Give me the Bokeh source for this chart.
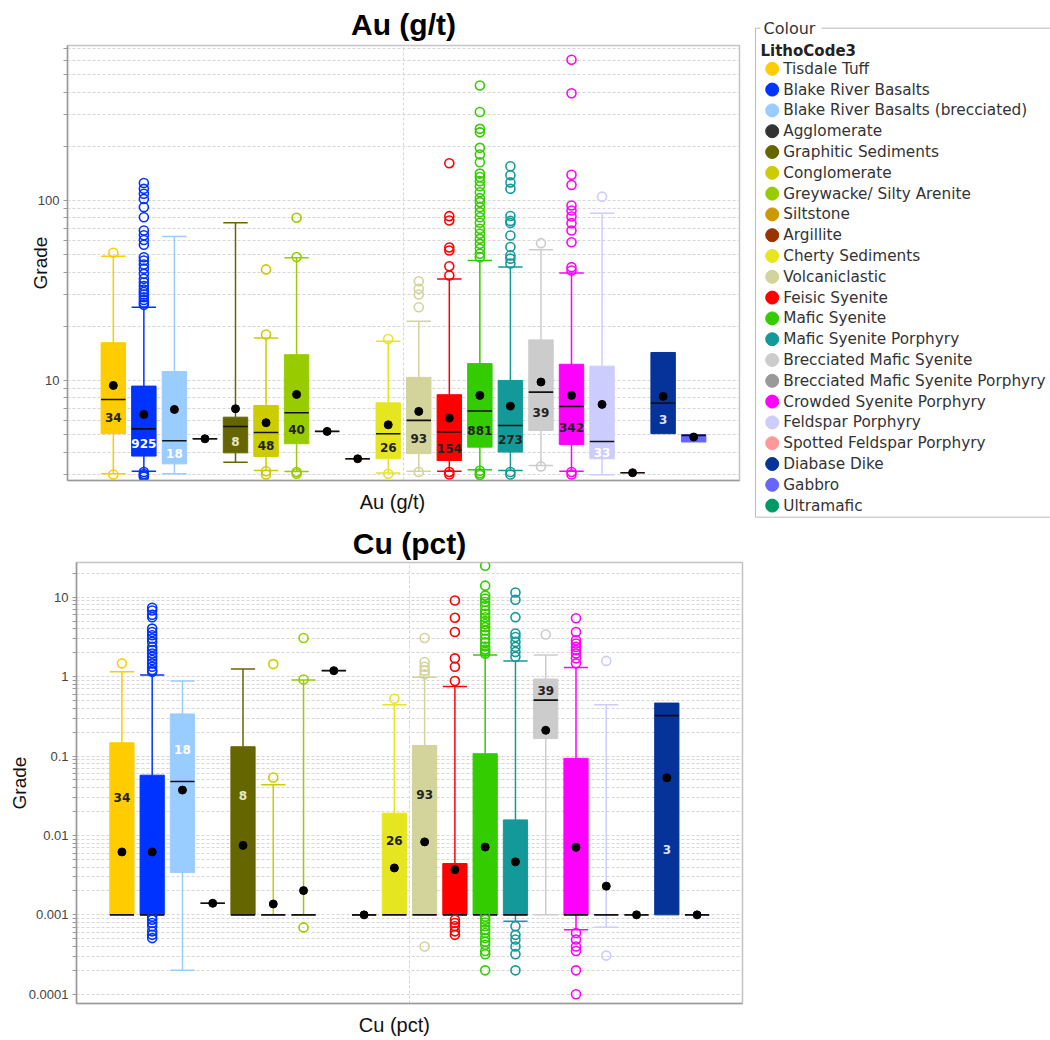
from bokeh.plotting import figure
from bokeh.models import FixedTicker, CustomJSTickFormatter, Range1d
from bokeh.layouts import row, column
from bokeh.embed import file_html
from bokeh.resources import INLINE
from bokeh.core.properties import value

# ---------------- legend categories ----------------
categories = ["Tisdale Tuff", "Blake River Basalts", "Blake River Basalts (brecciated)",
              "Agglomerate", "Graphitic Sediments", "Conglomerate", "Greywacke/ Silty Arenite",
              "Siltstone", "Argillite", "Cherty Sediments", "Volcaniclastic", "Feisic Syenite",
              "Mafic Syenite", "Mafic Syenite Porphyry", "Brecciated Mafic Syenite",
              "Brecciated Mafic Syenite Porphyry", "Crowded Syenite Porphyry", "Feldspar Porphyry",
              "Spotted Feldspar Porphyry", "Diabase Dike", "Gabbro", "Ultramafic"]
colors = ["#FFCC00", "#0033FF", "#99CCFF", "#333333", "#666600", "#CCCC00", "#99CC00",
          "#CC9900", "#993300", "#E6E620", "#D3D39C", "#FF0000", "#33CC00", "#139999",
          "#CCCCCC", "#999999", "#FF00FF", "#CCCCFF", "#FF9999", "#063399", "#6666FF", "#009966"]

# categories that have data (in plotted order)
plotted = [c for c in categories if c not in ("Brecciated Mafic Syenite Porphyry", "Ultramafic")]
counts = [34, 925, 18, None, 8, 48, 40, None, None, 26, 93, 154, 881, 273, 39, 342, 33, None, 3, None]

# ---------------- Au (g/t) ----------------
au_lo = [3.03, 3.13, 3.03, 4.74, 3.51, 3.16, 3.12, 5.21, 3.67, 3.06, 3.13, 3.13, 3.19, 3.16, 3.37, 3.13, 2.99, 3.07, 5.06, 4.55]
au_q1 = [5.06, 3.80, 3.44, 4.74, 3.96, 3.78, 4.45, 5.21, 3.67, 3.67, 3.92, 3.59, 4.26, 4.00, 5.27, 4.41, 3.67, 3.07, 5.06, 4.55]
au_med = [7.84, 5.38, 4.62, 4.74, 5.55, 5.14, 6.61, 5.21, 3.67, 5.06, 6.00, 5.17, 6.76, 5.62, 8.61, 7.17, 4.58, 3.07, 7.48, 4.95]
au_q3 = [16.2, 9.3, 11.2, 4.74, 6.25, 7.26, 13.9, 5.21, 3.67, 7.51, 10.4, 8.33, 12.4, 10.0, 16.8, 12.3, 12.0, 3.07, 14.3, 5.0]
au_hi = [48.9, 25.5, 63.1, 4.74, 75.2, 17.2, 48.0, 5.21, 3.67, 16.5, 21.3, 36.6, 46.4, 42.7, 53.2, 39.5, 84.9, 3.07, 14.3, 5.0]
au_mean = [9.38, 6.47, 6.9, 4.74, 6.96, 5.82, 8.36, 5.21, 3.67, 5.67, 6.73, 6.18, 8.26, 7.2, 9.8, 8.26, 7.36, 3.07, 8.15, 4.85]
au_label_y = [6.25, 4.45, 3.91, None, 4.6, 4.35, 5.34, None, None, 4.23, 4.78, 4.2, 5.27, 4.68, 6.67, 5.5, 4.0, None, 6.04, None]
au_outliers = [
    [51.2, 3.0],
    [125, 116, 109, 102, 91.8, 80.7, 68.1, 64.1, 60.3, 56.7, 48.4, 46.4, 44.1, 41.8, 39.1, 36.7,
     35.0, 33.5, 32.0, 31.0, 30.0, 29.0, 28.0, 27.0, 26.3, 3.1, 3.02, 2.96, 2.92],
    [],
    [],
    [],
    [41.4, 18.0, 3.13, 3.0],
    [80.2, 48.5, 3.1, 3.03],
    [],
    [],
    [17.0, 3.03],
    [35.6, 32.3, 30.0, 25.5, 3.1],
    [161, 81.8, 77.4, 54.8, 52.7, 43.1, 38.3, 3.1, 3.0],
    [435, 310, 250, 239, 196, 180, 163, 141, 135, 128, 120, 111, 103, 97.9, 91.8, 86.1, 80.7,
     75.2, 69.6, 65.3, 61.2, 57.4, 53.9, 50.6, 48.4, 3.15, 3.05, 2.98],
    [155, 138, 126, 116, 82, 77, 75, 63.9, 55.1, 49.5, 47.5, 44.6, 3.1, 3.0],
    [57.9, 3.33],
    [605, 394, 139, 122, 93.8, 88, 81.5, 74.8, 68.1, 58.6, 42.6, 40.8, 3.1, 3.0],
    [105],
    [],
    [],
    [],
]

# ---------------- Cu (pct) ----------------
cu_lo = [0.001, 0.001, 0.0002, 0.0014, 0.001, 0.001, 0.001, 1.19, 0.001, 0.001, 0.001, 0.001, 0.001, 0.00083, 0.001, 0.00065, 0.0007, 0.001, 0.001, 0.001]
cu_q1 = [0.001, 0.001, 0.00342, 0.0014, 0.001, 0.001, 0.001, 1.19, 0.001, 0.001, 0.001, 0.001, 0.001, 0.001, 0.166, 0.001, 0.001, 0.001, 0.001, 0.001]
cu_med = [0.001, 0.001, 0.0479, 0.0014, 0.001, 0.001, 0.001, 1.19, 0.001, 0.001, 0.001, 0.001, 0.001, 0.001, 0.507, 0.001, 0.001, 0.001, 0.323, 0.001]
cu_q3 = [0.147, 0.0574, 0.339, 0.0014, 0.131, 0.001, 0.001, 1.19, 0.001, 0.0191, 0.136, 0.00443, 0.107, 0.0157, 0.935, 0.0936, 0.001, 0.001, 0.465, 0.001]
cu_hi = [1.15, 1.05, 0.88, 0.0014, 1.25, 0.0434, 0.91, 1.19, 0.001, 0.443, 0.98, 0.75, 1.87, 1.57, 1.87, 1.30, 0.443, 0.001, 0.465, 0.001]
cu_mean = [0.0062, 0.0062, 0.0373, 0.0014, 0.0075, 0.00137, 0.00202, 1.19, 0.001, 0.0039, 0.0083, 0.0037, 0.00714, 0.00465, 0.211, 0.00708, 0.0023, 0.001, 0.0532, 0.001]
cu_label_y = [0.030, None, 0.121, None, 0.0316, None, None, None, None, 0.0087, 0.033, None, None, None, 0.66, None, None, None, 0.0066, None]
cu_outliers = [
    [1.47],
    [7.37, 6.82, 6.03, 5.62, 4.03, 3.65, 3.32, 3.02, 2.74, 2.37, 2.16, 1.96, 1.78, 1.62, 1.47, 1.33,
     1.21, 1.15, 0.00095, 0.00087, 0.00079, 0.00072, 0.00062, 0.00056, 0.00051],
    [],
    [],
    [],
    [1.44, 0.0537],
    [3.07, 0.92, 0.000695],
    [],
    [],
    [0.526],
    [3.07, 1.53, 1.33, 1.19, 1.07, 0.0004],
    [9.1, 5.52, 3.65, 1.70, 1.33, 0.88, 0.00087, 0.00079, 0.00072, 0.00062, 0.00056],
    [24.9, 14.0, 10.5, 9.6, 8.7, 7.8, 6.8, 6.2, 5.6, 5.0, 4.6, 4.2, 3.8, 3.4, 3.0, 2.7, 2.4, 2.2,
     2.06, 1.95, 0.00095, 0.00087, 0.0008, 0.00072, 0.00065, 0.00059, 0.00051, 0.00046, 0.00042,
     0.00035, 0.00032, 0.0002],
    [11.5, 9.3, 5.62, 3.49, 3.16, 2.74, 2.37, 2.05, 1.78, 0.00072, 0.00056, 0.00049, 0.0004,
     0.00032, 0.0002],
    [3.39],
    [5.45, 3.65, 2.88, 2.62, 2.37, 2.16, 1.96, 1.70, 1.47, 0.00059, 0.00049, 0.0004, 0.00035,
     0.0002, 0.0001],
    [1.58, 0.000307],
    [],
    [],
    [],
]

# ---------------- styles ----------------
color_of = dict(zip(categories, colors))
pcolors = [color_of[c] for c in plotted]
light_label = {"Blake River Basalts": "#ffffff", "Blake River Basalts (brecciated)": "#ffffff",
               "Graphitic Sediments": "#e6e6c8", "Feldspar Porphyry": "#ffffff",
               "Diabase Dike": "#dde0ff"}
label_colors = [light_label.get(c, "#222222") for c in plotted]
FONT = "Liberation Sans"
GRID = "#d6d6d6"
BW = 0.8


def no_align(fig):
    if "frame_align" in fig.properties():
        fig.frame_align = False


def box_chart(title, xname, lo, q1, med, q3, hi, mean, outliers, label_y,
              yr, majors, minors, width, height, border_left, border_right,
              border_top, border_bottom, label_standoff, title_standoff, xlabel_shift):
    n = len(plotted)
    xs = list(range(n))
    p = figure(width=width, height=height, y_axis_type="log",
               x_range=Range1d(-1.5, 20.5), y_range=Range1d(*yr),
               output_backend="svg", toolbar_location=None,
               min_border_left=border_left, min_border_right=border_right,
               min_border_top=border_top, min_border_bottom=border_bottom)
    no_align(p)
    p.title.text = title
    p.title.text_font = FONT
    p.title.text_font_size = "30px"
    p.title.text_font_style = "bold"
    p.title.align = "center"
    p.title.text_color = "#000000"
    p.title.standoff = title_standoff

    p.outline_line_color = "#c4c4c4"
    p.outline_line_width = 1.5
    p.background_fill_color = "white"

    # y axis
    p.yaxis.ticker = FixedTicker(ticks=majors, minor_ticks=minors)
    p.yaxis.formatter = CustomJSTickFormatter(code="return tick.toString();")
    p.yaxis.axis_label = "Grade"
    p.yaxis.axis_label_text_font = FONT
    p.yaxis.axis_label_text_font_size = "19px"
    p.yaxis.axis_label_text_font_style = "normal"
    p.yaxis.axis_label_text_color = "#111111"
    p.yaxis.axis_label_standoff = label_standoff
    p.yaxis.major_label_text_font = FONT
    p.yaxis.major_label_text_font_size = "13px"
    p.yaxis.major_label_text_color = "#444444"
    p.yaxis.major_label_standoff = 4
    p.yaxis.major_tick_out = 4
    p.yaxis.major_tick_in = 0
    p.yaxis.minor_tick_out = 4
    p.yaxis.minor_tick_in = 0
    p.yaxis.axis_line_color = "#9a9a9a"
    p.yaxis.axis_line_width = 1.5
    p.yaxis.major_tick_line_color = "#9a9a9a"
    p.yaxis.minor_tick_line_color = "#9a9a9a"

    # x axis: one category label near the centre; grid line at the exact centre
    centre = (n - 1) / 2
    p.xaxis.ticker = FixedTicker(ticks=[centre - xlabel_shift])
    p.xaxis.major_label_overrides = {centre - xlabel_shift: xname}
    p.xaxis.major_label_text_font = FONT
    p.xaxis.major_label_text_font_size = "20px"
    p.xaxis.major_label_text_color = "#111111"
    p.xaxis.major_label_standoff = 10
    p.xaxis.major_tick_out = 0
    p.xaxis.major_tick_in = 0
    p.xaxis.minor_tick_out = 0
    p.xaxis.axis_line_color = "#9a9a9a"
    p.xaxis.axis_line_width = 1.5

    p.ygrid.grid_line_color = GRID
    p.ygrid.grid_line_dash = "3 2"
    p.ygrid.minor_grid_line_color = GRID
    p.ygrid.minor_grid_line_dash = "3 2"
    p.xgrid.ticker = FixedTicker(ticks=[centre])
    p.xgrid.grid_line_color = GRID
    p.xgrid.grid_line_dash = "3 2"

    # whiskers
    up = [i for i in xs if hi[i] > q3[i]]
    dn = [i for i in xs if lo[i] < q1[i]]
    for idx, a, b in ((up, q3, hi), (dn, q1, lo)):
        if not idx:
            continue
        cols = [pcolors[i] for i in idx]
        p.segment(x0=[i for i in idx], y0=[a[i] for i in idx], x1=[i for i in idx],
                  y1=[b[i] for i in idx], line_color=cols, line_width=1.5)
        p.segment(x0=[i - BW / 2 for i in idx], y0=[b[i] for i in idx],
                  x1=[i + BW / 2 for i in idx], y1=[b[i] for i in idx],
                  line_color=cols, line_width=1.5)

    # boxes
    p.vbar(x=xs, width=BW, bottom=q1, top=q3, fill_color=pcolors, line_color=pcolors, line_width=1)
    # medians
    p.segment(x0=[i - BW / 2 for i in xs], y0=med, x1=[i + BW / 2 for i in xs], y1=med,
              line_color="#111111", line_width=1.6)

    # outliers
    ox, oy, oc = [], [], []
    for i in xs:
        for v in outliers[i]:
            ox.append(i)
            oy.append(v)
            oc.append(pcolors[i])
    p.scatter(x=ox, y=oy, marker="circle", size=9, fill_color=None, line_color=oc, line_width=1.6)

    # means
    p.scatter(x=xs, y=mean, marker="circle", size=8, fill_color="black", line_color="black")

    # count labels
    li = [i for i in xs if label_y[i] is not None and counts[i] is not None]
    p.text(x=li, y=[label_y[i] for i in li], text=[str(counts[i]) for i in li],
           text_color=[label_colors[i] for i in li], text_font=value("DejaVu Sans"),
           text_font_size="12px", text_font_style="bold",
           text_align="center", text_baseline="middle")
    return p


au_majors = [10, 100]
au_minors = [3, 4, 5, 6, 7, 8, 9, 20, 30, 40, 50, 60, 70, 80, 90, 200, 300, 400, 500, 600, 700]
cu_majors = [0.0001, 0.001, 0.01, 0.1, 1, 10]
cu_minors = [m * d for d in (0.0001, 0.001, 0.01, 0.1, 1, 10) for m in range(2, 10)]

p1 = box_chart("Au (g/t)", "Au (g/t)", au_lo, au_q1, au_med, au_q3, au_hi, au_mean,
               au_outliers, au_label_y, (2.78, 726), au_majors, au_minors,
               747, 520, 67, 8, 45, 40, -16, 10, 0.36)
p2 = box_chart("Cu (pct)", "Cu (pct)", cu_lo, cu_q1, cu_med, cu_q3, cu_hi, cu_mean,
               cu_outliers, cu_label_y, (7.65e-5, 27.4), cu_majors, cu_minors,
               747, 518, 76, 5, 42, 32, -4, 6, 0.5)

# ---------------- legend panel ----------------
leg = figure(width=303, height=520, x_range=Range1d(0, 303), y_range=Range1d(520, 0),
             x_axis_type=None, y_axis_type=None, output_backend="svg",
             toolbar_location=None, min_border=0, outline_line_color=None)
no_align(leg)
leg.multi_line(xs=[[13, 8, 8, 320], [74, 320]], ys=[[27.7, 27.7, 516.7, 516.7], [27.7, 27.7]],
               line_color="#bbbbbb", line_width=1)
leg.text(x=[16], y=[28], text=["Colour"], text_font=value("DejaVu Sans"), text_font_size="16px",
         text_color="#333333", text_baseline="middle")
leg.text(x=[13], y=[50], text=["LithoCode3"], text_font=value("DejaVu Sans"), text_font_size="15px",
         text_font_style="bold", text_color="#222222", text_baseline="middle")
ly = [68.3 + 20.8 * i for i in range(len(categories))]
leg.scatter(x=[24.7] * len(categories), y=ly, marker="circle", size=13, fill_color=colors,
            line_color=colors)
leg.text(x=[35.7] * len(categories), y=ly, text=categories, text_font=value("DejaVu Sans"),
         text_font_size="15.3px", text_color="#333333", text_baseline="middle")

layout = column(row(p1, leg), p2)
open("out.html", "w").write(file_html(layout, INLINE))
